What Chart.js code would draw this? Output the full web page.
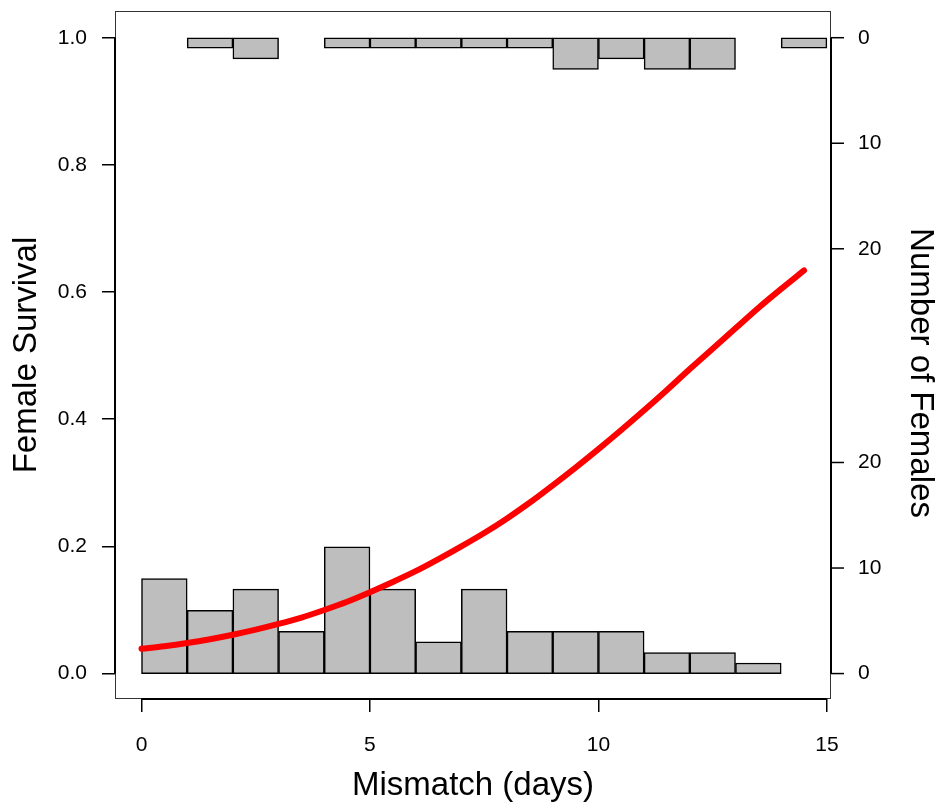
<!DOCTYPE html>
<html>
<head>
<meta charset="utf-8">
<script src="https://cdn.jsdelivr.net/npm/chart.js@4"></script>
<style>
  html, body { margin: 0; padding: 0; background: #fff; }
  #wrap { width: 940px; height: 806px; position: relative; }
</style>
</head>
<body>
<div id="wrap"><canvas id="survivalChart"></canvas></div>
<script>
// ======================
// DATA
// ======================

// histogram bins (1 day wide), centres
const binCentres = [0.5, 1.5, 2.5, 3.5, 4.5, 5.5, 6.5, 7.5, 8.5, 9.5, 10.5, 11.5, 12.5, 13.5, 14.5];

// females that died (bottom) / survived (top) per bin
const diedCounts = [9, 6, 8, 4, 12, 8, 3, 8, 4, 4, 4, 2, 2, 1, 0];
const survivedCounts = [0, 1, 2, 0, 1, 1, 1, 1, 1, 3, 2, 3, 3, 0, 1];

// fitted survival curve
const fitDays = [0, 0.5, 1, 1.5, 2, 2.5, 3, 3.5, 4, 4.5, 5, 5.5, 6, 6.5, 7, 7.5,
  8, 8.5, 9, 9.5, 10, 10.5, 11, 11.5, 12, 12.5, 13, 13.5, 14, 14.5];
const fitSurvival = [0.039, 0.043, 0.048, 0.054, 0.061, 0.069, 0.078, 0.088, 0.100, 0.113,
  0.128, 0.144, 0.161, 0.180, 0.200, 0.221, 0.244, 0.269, 0.296, 0.324,
  0.353, 0.383, 0.414, 0.446, 0.479, 0.511, 0.543, 0.575, 0.605, 0.634];

// ticks
const xTicks = [0, 5, 10, 15];
const survivalTicks = [0, 0.2, 0.4, 0.6, 0.8, 1.0];
const countTicks = [0, 10, 20];

// ======================
// SETUP
// ======================

const FONT = "'Liberation Sans', Arial, Helvetica, sans-serif";
const COUNTS_PER_UNIT = 60.25;   // how many females fill the full 0..1 survival range
const Y_MIN = -0.04;
const Y_MAX = 1.042;

function histPoints(counts) {
  const pts = [];
  counts.forEach((c, i) => {
    if (c > 0) pts.push({ x: binCentres[i], y: c });
  });
  return pts;
}

const barStyle = {
  backgroundColor: "#bebebe",
  borderColor: "#000",
  borderWidth: 1.5,
  borderSkipped: false,
  barPercentage: 1,
  categoryPercentage: 1,
  grouped: false,
  order: 2
};

function noEdgePadding(s) {
  s.paddingTop = 0;
  s.paddingBottom = 0;
  s.paddingLeft = 0;
  s.paddingRight = 0;
}

// frame, axis lines and the right hand count axis (shared by both histograms)
const rightAxis = {
  id: "rightAxis",
  afterDraw(chart) {
    const { ctx, chartArea, scales } = chart;
    const x = scales.x, y = scales.y, yB = scales.yB, yT = scales.yT;
    const right = chartArea.right;

    ctx.save();

    // frame
    ctx.strokeStyle = "#333";
    ctx.lineWidth = 1;
    ctx.strokeRect(chartArea.left + 0.5, chartArea.top + 0.5,
      chartArea.right - chartArea.left - 1, chartArea.bottom - chartArea.top - 1);

    // axis lines between first and last tick
    ctx.strokeStyle = "#000";
    ctx.lineWidth = 2;
    ctx.beginPath();
    ctx.moveTo(chartArea.left, y.getPixelForValue(survivalTicks[0]));
    ctx.lineTo(chartArea.left, y.getPixelForValue(survivalTicks[survivalTicks.length - 1]));
    ctx.moveTo(x.getPixelForValue(xTicks[0]), chartArea.bottom);
    ctx.lineTo(x.getPixelForValue(xTicks[xTicks.length - 1]), chartArea.bottom);
    ctx.moveTo(right, yB.getPixelForValue(0));
    ctx.lineTo(right, yT.getPixelForValue(0));
    ctx.stroke();

    // ticks + labels
    ctx.lineWidth = 1.5;
    ctx.fillStyle = "#000";
    ctx.font = "21px " + FONT;
    ctx.textAlign = "left";
    ctx.textBaseline = "middle";
    [yB, yT].forEach(scale => {
      countTicks.forEach(t => {
        const py = scale.getPixelForValue(t);
        ctx.beginPath();
        ctx.moveTo(right, py);
        ctx.lineTo(right + 13, py);
        ctx.stroke();
        ctx.fillText(String(t), right + 27, py);
      });
    });

    // title
    ctx.font = "33px " + FONT;
    ctx.textAlign = "center";
    ctx.translate(920, (chartArea.top + chartArea.bottom) / 2 + 18);
    ctx.rotate(Math.PI / 2);
    ctx.fillText("Number of Females", 0, 0);

    ctx.restore();
  }
};

// ======================
// CHART
// ======================

new Chart(document.getElementById("survivalChart"), {
  data: {
    datasets: [
      {
        type: "line",
        data: fitDays.map((d, i) => ({ x: d, y: fitSurvival[i] })),
        borderColor: "#ff0000",
        borderWidth: 6,
        borderCapStyle: "round",
        borderJoinStyle: "round",
        pointRadius: 0,
        tension: 0.4,
        cubicInterpolationMode: "monotone",
        yAxisID: "y",
        order: 0
      },
      Object.assign({ type: "bar", data: histPoints(diedCounts), yAxisID: "yB" }, barStyle),
      Object.assign({ type: "bar", data: histPoints(survivedCounts), yAxisID: "yT" }, barStyle)
    ]
  },
  options: {
    responsive: true,
    maintainAspectRatio: false,
    animation: false,
    layout: { padding: { top: 11, right: 109, left: 0, bottom: 0 } },
    plugins: {
      legend: { display: false },
      tooltip: { enabled: false }
    },
    scales: {
      x: {
        type: "linear",
        offset: false,
        min: -0.58,
        max: 15.09,
        afterBuildTicks: s => { s.ticks = xTicks.map(v => ({ value: v })); },
        afterFit: s => { s.height = 107; noEdgePadding(s); },
        grid: { drawOnChartArea: false, offset: false, color: "#000", lineWidth: 1.5, tickLength: 13 },
        border: { display: false },
        ticks: { color: "#000", font: { family: FONT, size: 21 }, padding: 21, maxRotation: 0 },
        title: {
          display: true,
          text: "Mismatch (days)",
          color: "#000",
          font: { family: FONT, size: 33, lineHeight: 1.2 },
          padding: { top: 0, bottom: 0 }
        }
      },
      y: {
        type: "linear",
        position: "left",
        min: Y_MIN,
        max: Y_MAX,
        afterBuildTicks: s => { s.ticks = survivalTicks.map(v => ({ value: v })); },
        afterFit: s => { s.width = 115; noEdgePadding(s); },
        grid: { drawOnChartArea: false, color: "#000", lineWidth: 1.5, tickLength: 13 },
        border: { display: false },
        ticks: {
          color: "#000",
          font: { family: FONT, size: 21 },
          padding: 15,
          callback: v => v.toFixed(1)
        },
        title: {
          display: true,
          text: "Female Survival",
          color: "#000",
          font: { family: FONT, size: 33, lineHeight: 1.2 },
          padding: { top: 7, bottom: 0 }
        }
      },
      yB: {
        type: "linear",
        display: false,
        min: Y_MIN * COUNTS_PER_UNIT,
        max: Y_MAX * COUNTS_PER_UNIT
      },
      yT: {
        type: "linear",
        display: false,
        reverse: true,
        min: (1 - Y_MAX) * COUNTS_PER_UNIT,
        max: (1 - Y_MIN) * COUNTS_PER_UNIT
      }
    }
  },
  plugins: [rightAxis]
});
</script>
</body>
</html>
